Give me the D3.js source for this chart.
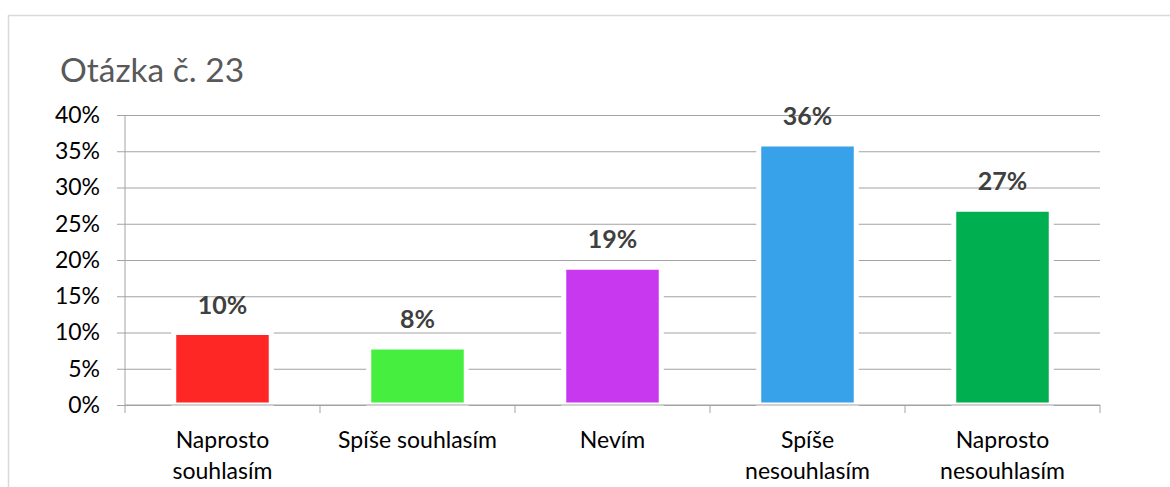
<!DOCTYPE html>
<html>
<head>
<meta charset="utf-8">
<script src="https://cdn.jsdelivr.net/npm/d3@7"></script>
<style>
  html, body { margin: 0; padding: 0; background: #ffffff; }
  svg { display: block; }
  text { font-family: Lato, "Liberation Sans", sans-serif; }
</style>
</head>
<body>
<div id="chart"></div>
<script>
// Survey answers for question 23 (share of respondents)
const title = "Otázka č. 23";
const categories = ["Naprosto souhlasím", "Spíše souhlasím", "Nevím", "Spíše nesouhlasím", "Naprosto nesouhlasím"];
const values = [0.10, 0.08, 0.19, 0.36, 0.27];
const colors = ["#FF2725", "#46EF3F", "#C838EF", "#37A1E9", "#00AF50"];
const yTicks = [0, 0.05, 0.10, 0.15, 0.20, 0.25, 0.30, 0.35, 0.40];

const width = 1170, height = 487;
const plot = { left: 125, right: 1100, top: 115, bottom: 405 };

const svg = d3.select("#chart").append("svg")
  .attr("width", width)
  .attr("height", height);

// outer chart frame
svg.append("rect")
  .attr("x", 8.5).attr("y", 15.5)
  .attr("width", 1200).attr("height", 600)
  .attr("fill", "#ffffff")
  .attr("stroke", "#d9d9d9")
  .attr("stroke-width", 1.5);

svg.append("text")
  .attr("x", 60).attr("y", 82)
  .attr("font-size", 33.5)
  .attr("fill", "#595959")
  .text(title);

const x = d3.scaleBand()
  .domain(categories)
  .range([plot.left, plot.right])
  .paddingInner(0.5)
  .paddingOuter(0.25);

const y = d3.scaleLinear()
  .domain([0, 0.40])
  .range([plot.bottom, plot.top]);

const pct = d3.format(".0%");

// horizontal gridlines with tick stubs to the left of the axis
const yAxis = d3.axisLeft(y)
  .tickValues(yTicks)
  .tickFormat(pct)
  .tickSize(-(plot.right - plot.left))
  .tickPadding(25);

const gy = svg.append("g")
  .attr("transform", `translate(${plot.left},0)`)
  .call(yAxis);
gy.select(".domain").remove();
gy.selectAll(".tick line")
  .attr("x1", -8)
  .attr("stroke", "#a3a3a3")
  .attr("stroke-width", 1);
gy.selectAll(".tick text")
  .attr("font-size", 23)
  .attr("fill", "#000000")
  .attr("font-family", "Lato, sans-serif");

// bars, outlined in white so the gridlines break around them
svg.append("g")
  .selectAll("rect")
  .data(values)
  .join("rect")
  .attr("x", (d, i) => x(categories[i]))
  .attr("y", d => y(d))
  .attr("width", x.bandwidth())
  .attr("height", d => y(0) - y(d))
  .attr("fill", (d, i) => colors[i])
  .attr("stroke", "#ffffff")
  .attr("stroke-width", 5);

// value labels above the bars
svg.append("g")
  .selectAll("text")
  .data(values)
  .join("text")
  .attr("x", (d, i) => x(categories[i]) + x.bandwidth() / 2)
  .attr("y", d => y(d) - 19)
  .attr("text-anchor", "middle")
  .attr("font-size", 25)
  .attr("font-weight", "bold")
  .attr("fill", "#404040")
  .text(d => pct(d));

// vertical axis line
svg.append("line")
  .attr("x1", plot.left).attr("x2", plot.left)
  .attr("y1", plot.top).attr("y2", plot.bottom)
  .attr("stroke", "#a3a3a3")
  .attr("stroke-width", 1);

// category axis: baseline plus ticks at the band boundaries
const boundaries = categories.map(c => x(c) - x.step() * 0.25).concat([plot.right]);
const gx = svg.append("g");
gx.append("line")
  .attr("x1", plot.left).attr("x2", plot.right)
  .attr("y1", plot.bottom).attr("y2", plot.bottom)
  .attr("stroke", "#a3a3a3")
  .attr("stroke-width", 1);
gx.selectAll("line.tk")
  .data(boundaries)
  .join("line")
  .attr("class", "tk")
  .attr("x1", d => d).attr("x2", d => d)
  .attr("y1", plot.bottom).attr("y2", plot.bottom + 8)
  .attr("stroke", "#a3a3a3")
  .attr("stroke-width", 1);

// category labels, wrapped onto two lines when wider than the band
const maxLabelWidth = 180;
const labels = gx.selectAll("text.cat")
  .data(categories)
  .join("text")
  .attr("class", "cat")
  .attr("x", c => x(c) + x.bandwidth() / 2)
  .attr("y", 448)
  .attr("text-anchor", "middle")
  .attr("font-size", 23)
  .attr("fill", "#000000");

labels.each(function (c) {
  const t = d3.select(this);
  const cx = +t.attr("x");
  t.text(c);
  if (this.getComputedTextLength() > maxLabelWidth) {
    const words = c.split(" ");
    t.text(null);
    t.append("tspan").attr("x", cx).attr("dy", 0).text(words.slice(0, -1).join(" "));
    t.append("tspan").attr("x", cx).attr("dy", 31).text(words[words.length - 1]);
  }
});
</script>
</body>
</html>
